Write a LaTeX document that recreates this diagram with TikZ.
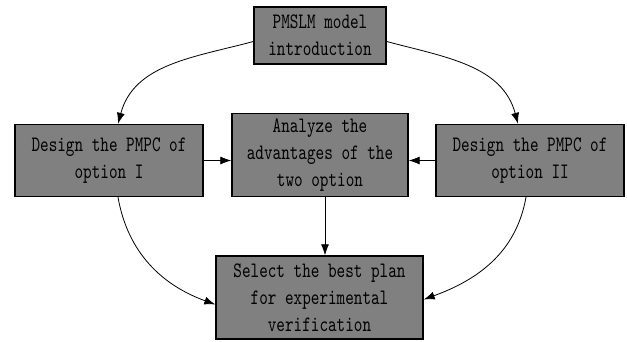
\documentclass[tikz,border=0pt]{standalone}
\usepackage{fontspec}
\usetikzlibrary{arrows.meta}
\newfontfamily\boxfont{lmmono10-regular.otf}[FakeStretch=0.745]
\definecolor{boxgray}{RGB}{128,128,128}
\begin{document}
\begin{tikzpicture}[x=1pt,y=1pt,
  stepbox/.style={draw=black,line width=1.4pt,fill=boxgray,align=center,
    inner sep=0pt,font=\boxfont\fontsize{22}{27}\selectfont},
  link/.style={line width=0.8pt,-{Latex[length=11pt,width=8pt]}}]
\useasboundingbox (0,0) rectangle (627,341);
% boxes
\node[stepbox,minimum width=132,minimum height=57] (top) at (320,305.5) {PMSLM model\\introduction};
\node[stepbox,minimum width=188,minimum height=72] (left) at (109,180.5) {Design the PMPC of\\option I};
\node[stepbox,minimum width=176,minimum height=83] (mid) at (320,186) {Analyze the\\advantages of the\\two option};
\node[stepbox,minimum width=188,minimum height=72] (right) at (530,180.5) {Design the PMPC of\\option II};
\node[stepbox,minimum width=207,minimum height=83] (bot) at (319.5,43.5) {Select the best plan\\for experimental\\verification};
% curved connectors
\draw[link] ([yshift=-6]top.west) to[out=195,in=75] ([xshift=9]left.north);
\draw[link] ([yshift=-6]top.east) to[out=-15,in=105] ([xshift=-12]right.north);
\draw[link] ([xshift=9]left.south) to[out=-80,in=160] ([yshift=-7]bot.west);
\draw[link] ([xshift=-4]right.south) to[out=-100,in=20] ([yshift=-2]bot.east);
% straight connectors
\draw[link] (left.east) -- (left.east -| mid.west);
\draw[link] (right.west) -- (right.west -| mid.east);
\draw[link] ([xshift=5]mid.south) -- ([xshift=5]mid.south |- bot.north);
\end{tikzpicture}
\end{document}
